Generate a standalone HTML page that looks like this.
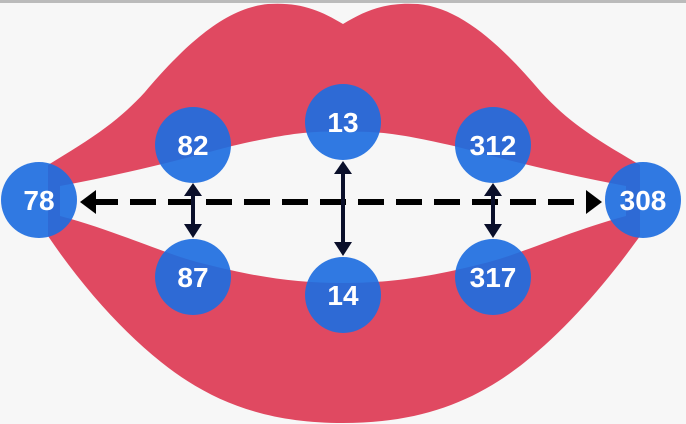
<!DOCTYPE html>
<html><head><meta charset="utf-8"><style>
html,body{margin:0;padding:0;background:#f7f7f7;width:686px;height:424px;overflow:hidden}
svg{display:block}
text{font-family:"Liberation Sans",sans-serif;font-weight:bold;fill:#fff;font-size:28px}
</style></head><body>
<svg width="686" height="424" viewBox="0 0 686 424">
<rect x="0" y="0" width="686" height="3" fill="#bbb"/>
<path fill="#e04961" fill-rule="evenodd"
d="M48,165 C85,142 115,125 145,92 C185,45 225,8 268,4 C300,2 320,10 343,24 C366,10 386,2 418,4 C461,8 501,45 541,92 C571,125 601,142 640,165 L640,236 C605,285 565,330 525,362 C475,402 420,423 343,423 C266,423 211,402 161,362 C121,330 81,285 48,236 Z
M60,186 C120,175 180,160 232,146 C280,135 310,130 343,132 C376,130 406,135 454,146 C506,160 566,175 626,186 L626,216 C566,232 520,255 481,264 C430,277 390,283 343,283 C296,283 256,277 205,264 C166,255 120,232 60,216 Z"/>
<g stroke="#000" stroke-width="6">
<line x1="92" y1="202" x2="590" y2="202" stroke-dasharray="26,12"/>
<polygon points="80,202 96,190 96,214" fill="#000" stroke="none"/>
<polygon points="602,202 586,190 586,214" fill="#000" stroke="none"/>
</g>
<g stroke="#0a0f2a" stroke-width="4" fill="#0a0f2a">
<line x1="193" y1="192" x2="193" y2="228"/><polygon points="193,183 184,196 202,196" stroke="none"/><polygon points="193,238 184,224 202,224" stroke="none"/>
<line x1="343" y1="170" x2="343" y2="248"/><polygon points="343,161 334,174 352,174" stroke="none"/><polygon points="343,256 334,242 352,242" stroke="none"/>
<line x1="493" y1="192" x2="493" y2="228"/><polygon points="493,183 484,196 502,196" stroke="none"/><polygon points="493,238 484,224 502,224" stroke="none"/>
</g>
<g fill="#1e6ee0" fill-opacity="0.92">
<circle cx="39" cy="200" r="38"/>
<circle cx="193" cy="145" r="38"/>
<circle cx="343" cy="122" r="38"/>
<circle cx="493" cy="145" r="38"/>
<circle cx="643" cy="200" r="38"/>
<circle cx="193" cy="277" r="38"/>
<circle cx="343" cy="295" r="38"/>
<circle cx="493" cy="277" r="38"/>
</g>
<g text-anchor="middle">
<text x="39" y="210">78</text>
<text x="193" y="155">82</text>
<text x="343" y="132">13</text>
<text x="493" y="155">312</text>
<text x="643" y="210">308</text>
<text x="193" y="287">87</text>
<text x="343" y="305">14</text>
<text x="493" y="287">317</text>
</g>
</svg>
</body></html>
